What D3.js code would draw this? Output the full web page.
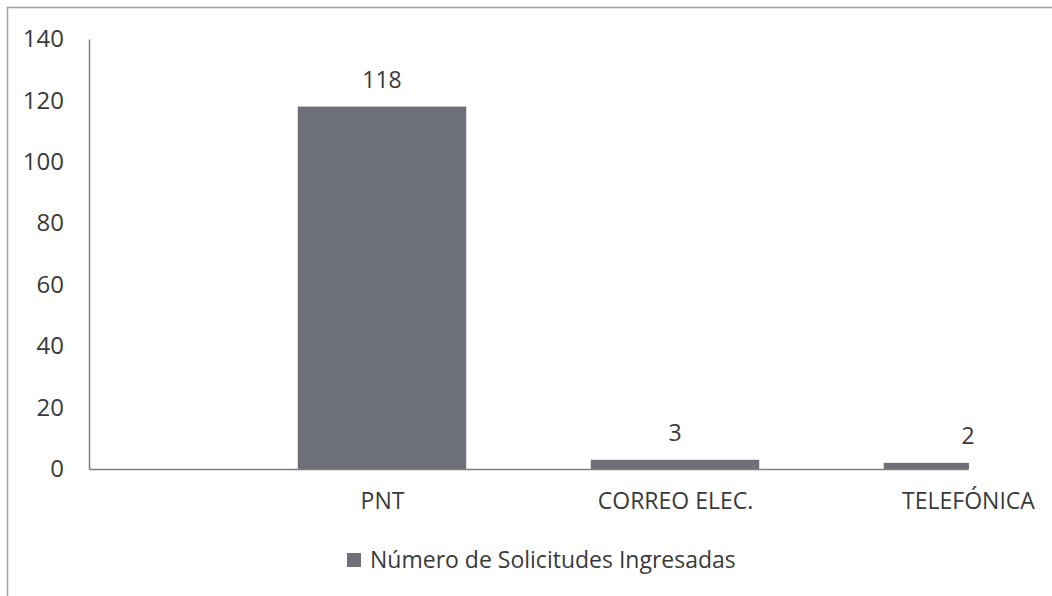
<!DOCTYPE html>
<html>
<head>
<meta charset="utf-8">
<script src="https://cdn.jsdelivr.net/npm/d3@7"></script>
<style>
  body { margin: 0; background: #fff; }
  text { font-family: "Open Sans", Lato, sans-serif; fill: #3a3a3a; }
</style>
</head>
<body>
<div id="chart"></div>
<script>
// data
var categories = ['', 'PNT', 'CORREO ELEC.', 'TELEFÓNICA'];
var values = [0, 118, 3, 2];
var yTicks = [0, 20, 40, 60, 80, 100, 120, 140];
var seriesName = 'Número de Solicitudes Ingresadas';

var svgWidth = 1052, svgHeight = 596;
var plot = { left: 89, right: 968, top: 39, bottom: 469 };
var font = '"Open Sans", Lato, sans-serif';

var svg = d3.select('#chart').append('svg')
  .attr('width', svgWidth)
  .attr('height', svgHeight);

svg.append('rect')
  .attr('x', 7.5).attr('y', 7.5)
  .attr('width', svgWidth).attr('height', svgHeight)
  .attr('fill', '#fff')
  .attr('stroke', '#a0a0a0')
  .attr('stroke-width', 1.5);

var x = d3.scalePoint()
  .domain(categories)
  .range([plot.left, plot.right]);

var y = d3.scaleLinear()
  .domain([0, 140])
  .range([plot.bottom, plot.top]);

var barWidth = x.step() * 0.575;

svg.append('clipPath').attr('id', 'plot-clip')
  .append('rect')
  .attr('x', plot.left).attr('y', 0)
  .attr('width', plot.right - plot.left + 1).attr('height', svgHeight);

var barData = categories.map(function(c, i){ return { cat: c, val: values[i] }; })
  .filter(function(d){ return d.val > 0; });

// bars
svg.append('g')
  .attr('clip-path', 'url(#plot-clip)')
  .selectAll('rect')
  .data(barData)
  .enter().append('rect')
  .attr('x', function(d){ return x(d.cat) - barWidth / 2; })
  .attr('y', function(d){ return y(d.val); })
  .attr('width', barWidth)
  .attr('height', function(d){ return y(0) - y(d.val); })
  .attr('fill', '#6d7077');

// value labels
svg.append('g')
  .selectAll('text')
  .data(barData)
  .enter().append('text')
  .attr('x', function(d){ return x(d.cat); })
  .attr('y', function(d){ return y(d.val) - 19; })
  .attr('text-anchor', 'middle')
  .style('font-size', '23px')
  .text(function(d){ return d.val; });

// y axis
var yAxis = svg.append('g')
  .attr('transform', 'translate(' + plot.left + ',0)')
  .call(d3.axisLeft(y).tickValues(yTicks).tickSize(0).tickPadding(25));
yAxis.select('.domain').attr('stroke', '#808080').attr('stroke-width', 1.5);
yAxis.selectAll('text')
  .style('font-size', '24px')
  .style('font-family', font)
  .attr('fill', '#3a3a3a');

// x axis
var xAxis = svg.append('g')
  .attr('transform', 'translate(0,' + plot.bottom + ')')
  .call(d3.axisBottom(x).tickSize(0).tickPadding(24));
xAxis.select('.domain').attr('stroke', '#808080').attr('stroke-width', 1.5);
xAxis.selectAll('text')
  .style('font-size', '23px')
  .style('font-family', font)
  .attr('fill', '#3a3a3a');

// legend
var legend = svg.append('g').attr('transform', 'translate(347,553)');
legend.append('rect')
  .attr('width', 14).attr('height', 14)
  .attr('fill', '#6d7077');
legend.append('text')
  .attr('x', 23).attr('y', 7)
  .attr('dy', '0.35em')
  .style('font-size', '23px')
  .text(seriesName);
</script>
</body>
</html>
